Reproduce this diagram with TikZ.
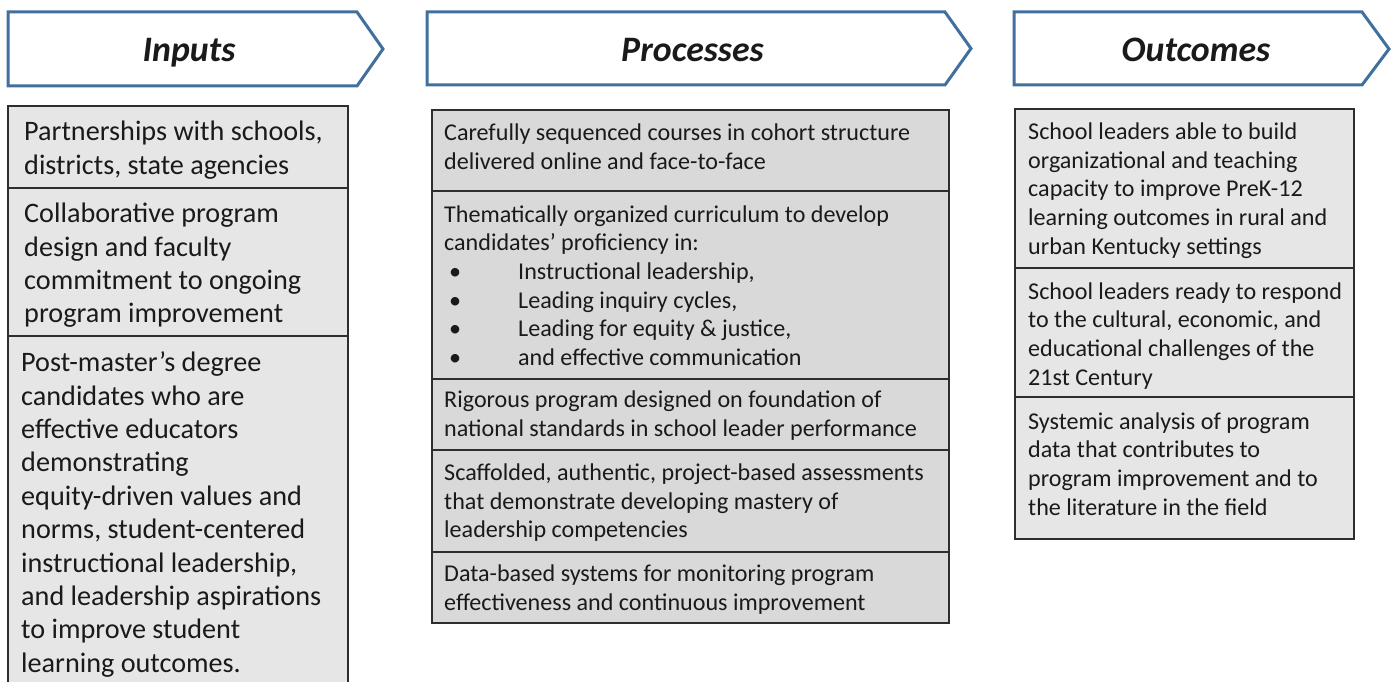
\documentclass[tikz,border=0pt]{standalone}
\usepackage{fontspec}
\setmainfont{Carlito}
\definecolor{arrowblue}{HTML}{41709E}
\definecolor{cellA}{HTML}{E6E6E6}
\definecolor{cellB}{HTML}{D9D9D9}
\definecolor{edge}{HTML}{2E2E2E}
\definecolor{ink}{HTML}{1A1A1A}
\tikzset{
  header/.style={draw=arrowblue, line width=3pt, fill=white, line join=miter},
  headtext/.style={anchor=base, inner sep=0, text=ink, font=\fontsize{35.8}{42}\selectfont\bfseries\itshape},
  cellIn/.style={draw=edge, line width=2pt, fill=cellA},
  cellPr/.style={draw=edge, line width=2pt, fill=cellB},
  txtIn/.style={anchor=north west, inner sep=0, align=left, text=ink, font=\fontsize{28.2}{33.4}\selectfont},
  txtPr/.style={anchor=north west, inner sep=0, align=left, text=ink, font=\fontsize{24.1}{28.6}\selectfont},
}
\newcommand{\blt}[1]{\hspace*{5pt}\makebox[69pt][l]{•}#1}
\begin{document}
\begin{tikzpicture}[x=1pt,y=-1pt]
\useasboundingbox (0,0) rectangle (1393,682);
% header arrows
\draw[header] (8,12) -- (357,12) -- (383,49) -- (357,86) -- (8,86) -- cycle;
\draw[header] (427,12) -- (945,12) -- (971,48.5) -- (945,85) -- (427,85) -- cycle;
\draw[header] (1014,12) -- (1362,12) -- (1389,49) -- (1362,85) -- (1014,85) -- cycle;
\node[headtext] (hin) at (189,61.5) {Inputs};
\node[headtext] (hpr) at (692.5,61.5) {Processes};
\node[headtext] (hout) at (1196,61.5) {Outcomes};
% inputs cells
\draw[cellIn] (8,106) rectangle (348,188);
\draw[cellIn] (8,188) rectangle (348,336);
\draw[cellIn] (8,336) rectangle (348,683);
\node[txtIn] (in1) at (24,140.5-23.38) {\strut Partnerships with schools,\\districts, state agencies};
\node[txtIn] (in2) at (24,222.5-23.38) {\strut Collaborative program\\design and faculty\\commitment to ongoing\\program improvement};
\node[txtIn] (in3) at (21,371.5-23.38) {\strut Post-master’s degree\\candidates who are\\effective educators\\demonstrating\\equity-driven values and\\norms, student-centered\\instructional leadership,\\and leadership aspirations\\to improve student\\learning outcomes.};
% processes cells
\draw[cellPr] (432,110) rectangle (949,191);
\draw[cellPr] (432,191) rectangle (949,379);
\draw[cellPr] (432,379) rectangle (949,450);
\draw[cellPr] (432,450) rectangle (949,552);
\draw[cellPr] (432,552) rectangle (949,623);
\node[txtPr] (pr1) at (444,140.5-20.02) {\strut Carefully sequenced courses in cohort structure\\delivered online and face-to-face};
\node[txtPr] (pr2) at (444,222-20.02) {\strut Thematically organized curriculum to develop\\candidates’ proficiency in:\\\blt{Instructional leadership,}\\\blt{Leading inquiry cycles,}\\\blt{Leading for equity \& justice,}\\\blt{and effective communication}};
\node[txtPr] (pr3) at (444,407.5-20.02) {\strut Rigorous program designed on foundation of\\national standards in school leader performance};
\node[txtPr] (pr4) at (444,480.5-20.02) {\strut Scaffolded, authentic, project-based assessments\\that demonstrate developing mastery of\\leadership competencies};
\node[txtPr] (pr5) at (444,581.5-20.02) {\strut Data-based systems for monitoring program\\effectiveness and continuous improvement};
% outcomes cells
\draw[cellIn] (1015,109) rectangle (1354,268);
\draw[cellIn] (1015,268) rectangle (1354,397);
\draw[cellIn] (1015,397) rectangle (1354,539);
\node[txtPr] (out1) at (1028,139.5-20.02) {\strut School leaders able to build\\organizational and teaching\\capacity to improve PreK-12\\learning outcomes in rural and\\urban Kentucky settings};
\node[txtPr] (out2) at (1028,299-20.02) {\strut School leaders ready to respond\\to the cultural, economic, and\\educational challenges of the\\21st Century};
\node[txtPr] (out3) at (1028,429-20.02) {\strut Systemic analysis of program\\data that contributes to\\program improvement and to\\the literature in the field};
\end{tikzpicture}
\end{document}
